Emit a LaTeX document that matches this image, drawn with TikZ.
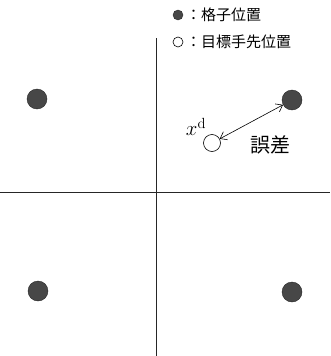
\documentclass[tikz,border=0pt]{standalone}
\usepackage{fontspec}
\newfontfamily\cjk{Noto Sans CJK JP}
\usetikzlibrary{arrows.meta}
\begin{document}
\begin{tikzpicture}[x=1pt,y=-1pt,
  axis/.style={line width=0.9pt,black!85},
  lattice/.style={circle,fill=black!72,draw=black!85,line width=0.4pt,minimum size=20pt,inner sep=0pt},
  target/.style={circle,fill=white,draw=black,line width=0.6pt,minimum size=17pt,inner sep=0pt},
  lsmall/.style={circle,fill=black!72,draw=black!85,minimum size=10pt,inner sep=0pt},
  tsmall/.style={circle,fill=white,draw=black,line width=0.6pt,minimum size=10pt,inner sep=0pt},
  legendtext/.style={anchor=west,inner sep=0pt,font=\cjk\fontsize{15}{17}\selectfont},
  err/.style={{Straight Barb[length=6pt,width=9pt]}-{Straight Barb[length=6pt,width=9pt]},line width=0.6pt}]
\useasboundingbox (0,0) rectangle (330,356);
\coordinate (vt) at (156,38);
\coordinate (vb) at (156,356);
\coordinate (hl) at (0,192);
\coordinate (hr) at (330,192);
\draw[axis] (vt) -- (vb);
\draw[axis] (hl) -- (hr);
\node[lattice] (p1) at (37,99) {};
\node[lattice] (p2) at (292,100) {};
\node[lattice] (p3) at (38,291) {};
\node[lattice] (p4) at (292,292) {};
\node[target] (xd) at (212,143) {};
\draw[err] (xd) -- (p2);
\node[inner sep=0pt,font=\fontsize{21}{23}\selectfont] (xl) at (196,127) {$x^{\mathrm{d}}$};
\node[inner sep=0pt,font=\cjk\fontsize{20}{22}\selectfont] (el) at (270,145) {誤差};
\node[lsmall] (l1) at (178,15) {};
\node[legendtext] (t1) at (186,15) {：格子位置};
\node[tsmall] (l2) at (178,42) {};
\node[legendtext] (t2) at (186,42) {：目標手先位置};
\end{tikzpicture}
\end{document}
